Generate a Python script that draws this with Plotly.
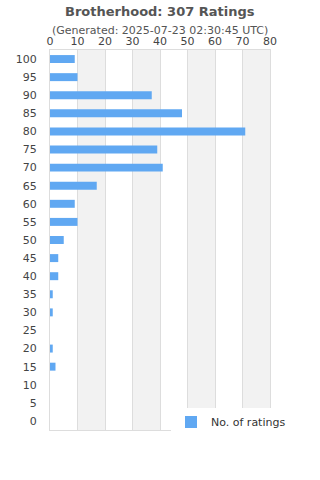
import plotly.graph_objects as go

categories = ["100", "95", "90", "85", "80", "75", "70", "65", "60", "55", "50",
              "45", "40", "35", "30", "25", "20", "15", "10", "5", "0"]
ratings = [9, 10, 37, 48, 71, 39, 41, 17, 9, 10, 5, 3, 3, 1, 1, 0, 1, 2, 0, 0, 0]
x_ticks = [0, 10, 20, 30, 40, 50, 60, 70, 80]
title = "Brotherhood: 307 Ratings"
subtitle = "(Generated: 2025-07-23 02:30:45 UTC)"
series_name = "No. of ratings"

fig = go.Figure()
fig.add_trace(go.Bar(
    y=categories, x=ratings, orientation="h", name=series_name,
    marker=dict(color="#60a8f2", line=dict(width=0)), width=0.44,
    showlegend=True,
))

shapes = []
for i in range(1, len(x_ticks) - 1, 2):
    shapes.append(dict(type="rect", xref="x", yref="paper", x0=x_ticks[i], x1=x_ticks[i + 1],
                       y0=0, y1=1, fillcolor="#f2f2f2", line=dict(width=0), layer="below"))

fig.update_layout(
    width=320, height=480,
    margin=dict(l=50, r=50, t=50, b=50),
    paper_bgcolor="white", plot_bgcolor="white",
    font=dict(family="DejaVu Sans", color="#444", size=11),
    shapes=shapes,
    legend=dict(x=0.55, y=0.021, xanchor="left", yanchor="middle", bgcolor="white",
                font=dict(size=11, color="#333"), itemwidth=30),
)
fig.add_annotation(text="<b>" + title + "</b>", xref="paper", yref="paper",
                   x=0.5, y=1, yanchor="middle", yshift=39, showarrow=False,
                   font=dict(size=13, color="#555"))
fig.add_annotation(text=subtitle, xref="paper", yref="paper",
                   x=0.5, y=1, yanchor="middle", yshift=20, showarrow=False,
                   font=dict(size=11, color="#555"))

fig.update_xaxes(side="top", range=[0, 80], tickvals=x_ticks, showgrid=True,
                 gridcolor="#dddddd", gridwidth=1, showline=True, linecolor="#dddddd",
                 mirror=True, zeroline=False, ticks="", ticklabelstandoff=0,
                 tickfont=dict(size=11, color="#444"), fixedrange=True)
fig.update_yaxes(type="category", categoryorder="array", categoryarray=categories,
                 autorange="reversed", showline=True, linecolor="#dddddd", mirror=True,
                 showgrid=False, ticks="", ticklabelstandoff=10,
                 tickfont=dict(size=11, color="#444"), fixedrange=True)

fig.write_html("out.html")
